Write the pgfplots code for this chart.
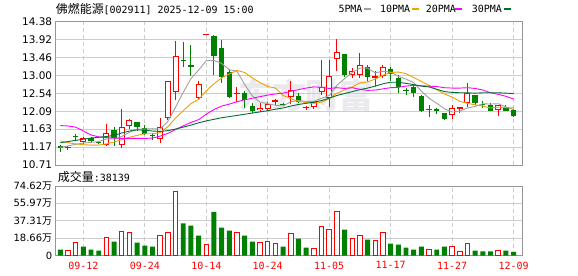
\documentclass[border=0pt]{standalone}
\usepackage{pgfplots}
\pgfplotsset{compat=1.18}
\usepackage{pgfplotstable}
\usepackage{fontspec}
\setmainfont{DejaVu Sans}
\newfontfamily\cjk{Noto Sans CJK SC}
\newfontfamily\mono{DejaVu Sans Mono}
\definecolor{kred}{RGB}{255,0,0}
\definecolor{kgreen}{RGB}{0,128,0}
\definecolor{ma5}{RGB}{160,160,160}
\definecolor{ma10}{RGB}{240,160,0}
\definecolor{ma20}{RGB}{255,0,255}
\definecolor{ma30}{RGB}{0,110,50}
\definecolor{gridc}{RGB}{205,205,205}
\definecolor{framec}{RGB}{150,150,150}
\definecolor{wm}{RGB}{234,234,238}

\pgfplotstableread{
i o h l c
1 11.15 11.20 11.09 11.16
3 11.32 11.42 11.26 11.38
6 11.24 11.76 11.20 11.52
8 11.24 12.15 11.14 11.68
9 11.73 11.90 11.63 11.86
13 11.38 11.92 11.28 11.67
14 11.93 12.86 11.85 12.86
15 12.60 13.89 12.38 13.48
18 12.44 12.85 12.38 12.78
19 14.06 14.06 14.06 14.06
23 12.53 12.72 12.32 12.55
26 12.13 12.31 12.08 12.16
27 12.16 12.33 12.10 12.25
28 12.33 12.41 12.25 12.35
30 12.46 12.86 12.27 12.62
32 12.17 12.22 12.12 12.18
33 12.22 12.35 12.14 12.31
34 12.60 13.40 12.50 12.69
35 12.44 13.40 12.19 12.97
36 13.44 13.94 13.13 13.59
38 13.03 13.20 12.93 13.11
39 13.03 13.57 12.93 13.27
41 12.96 13.12 12.74 12.98
42 12.99 13.27 12.93 13.20
51 12.01 12.25 11.89 12.16
52 12.16 12.17 12.04 12.17
53 12.31 12.80 12.19 12.53
57 12.14 12.25 11.97 12.23
}\redK

\pgfplotstableread{
i o h l c
0 11.20 11.21 11.04 11.15
2 11.45 11.50 11.34 11.42
4 11.40 11.42 11.28 11.33
5 11.29 11.31 11.25 11.27
7 11.61 11.69 11.20 11.40
10 11.80 11.82 11.59 11.68
11 11.65 11.73 11.48 11.51
12 11.47 11.54 11.35 11.45
16 13.39 13.87 13.23 13.37
17 13.26 13.78 13.00 13.23
20 14.02 14.04 13.02 13.51
21 13.71 13.91 12.82 12.97
22 13.10 13.16 12.42 12.44
24 12.56 12.61 12.16 12.37
25 12.22 12.31 12.05 12.09
29 12.26 12.29 12.21 12.25
31 12.47 12.55 12.29 12.32
37 13.55 13.56 12.97 13.02
40 13.23 13.27 12.85 12.97
43 13.17 13.23 12.85 13.03
44 12.95 13.02 12.56 12.72
45 12.61 12.67 12.50 12.60
46 12.72 12.74 12.46 12.55
47 12.48 12.49 12.08 12.10
48 12.14 12.25 11.95 12.12
49 12.11 12.16 12.02 12.10
50 12.03 12.04 11.86 11.88
54 12.50 12.51 12.25 12.31
55 12.26 12.35 12.16 12.25
56 12.25 12.29 12.09 12.10
58 12.19 12.25 12.09 12.10
59 12.12 12.14 11.95 11.97
}\greenK

\pgfplotstableread{
i m5 m10 m20 m30
0 11.16 11.33 11.72 11.28
1 11.20 11.28 11.71 11.31
2 11.24 11.25 11.68 11.34
3 11.27 11.23 11.58 11.37
4 11.29 11.22 11.48 11.40
5 11.31 11.22 11.43 11.42
6 11.38 11.25 11.41 11.44
7 11.38 11.30 11.40 11.47
8 11.44 11.36 11.39 11.53
9 11.55 11.42 11.39 11.58
10 11.63 11.47 11.39 11.61
11 11.63 11.51 11.39 11.60
12 11.64 11.51 11.40 11.58
13 11.63 11.54 11.45 11.57
14 11.83 11.69 11.52 11.59
15 12.19 11.91 11.62 11.63
16 12.57 12.10 11.71 11.68
17 12.92 12.28 11.80 11.73
18 13.14 12.39 11.87 11.79
19 13.38 12.61 12.01 11.84
20 13.39 12.79 12.13 11.88
21 13.31 12.94 12.22 11.92
22 13.15 13.04 12.27 11.95
23 13.11 13.13 12.33 11.98
24 12.77 13.08 12.38 12.01
25 12.48 12.94 12.42 12.04
26 12.32 12.82 12.46 12.07
27 12.28 12.72 12.50 12.10
28 12.24 12.68 12.53 12.14
29 12.22 12.49 12.55 12.17
30 12.33 12.41 12.60 12.22
31 12.36 12.34 12.64 12.26
32 12.34 12.31 12.68 12.29
33 12.34 12.29 12.71 12.32
34 12.42 12.32 12.70 12.36
35 12.49 12.41 12.67 12.42
36 12.75 12.55 12.69 12.49
37 12.92 12.63 12.67 12.54
38 13.08 12.71 12.69 12.59
39 13.19 12.81 12.65 12.64
40 13.19 12.84 12.62 12.68
41 13.07 12.91 12.63 12.73
42 13.11 13.01 12.66 12.79
43 13.09 13.08 12.69 12.83
44 12.98 13.09 12.70 12.83
45 12.91 13.05 12.73 12.80
46 12.82 12.95 12.75 12.77
47 12.60 12.85 12.74 12.73
48 12.42 12.75 12.73 12.71
49 12.29 12.64 12.72 12.65
50 12.15 12.53 12.69 12.59
51 12.07 12.45 12.68 12.57
52 12.09 12.34 12.68 12.56
53 12.17 12.29 12.69 12.56
54 12.21 12.25 12.67 12.55
55 12.28 12.22 12.63 12.56
56 12.27 12.17 12.56 12.56
57 12.28 12.19 12.52 12.56
58 12.20 12.18 12.47 12.55
59 12.13 12.17 12.40 12.54
}\maT

\pgfplotstableread{
i v
1 5.0
2 13.5
6 18.8
8 26.3
9 24.2
13 22.0
14 25.2
15 68.9
19 11.4
23 25.2
26 13.5
27 14.6
28 12.4
30 23.1
33 7.1
34 30.6
35 27.4
36 47.6
38 17.8
39 21.0
41 15.6
42 24.2
48 6.0
51 9.2
52 3.9
53 12.4
57 5.0
}\volR

\pgfplotstableread{
i v
0 6.4
3 9.6
4 6.4
5 5.3
7 14.9
10 13.9
11 10.7
12 9.6
16 34.5
17 32.0
18 21.3
20 46.9
21 29.8
22 26.7
24 21.3
25 14.9
29 9.6
31 18.1
32 8.5
37 27.7
40 17.1
43 12.8
44 11.7
45 8.5
46 6.4
47 9.6
49 6.4
50 9.6
54 5.3
55 4.3
56 4.3
58 5.3
59 3.81
}\volG

\pgfplotsset{
  kpanel/.style={
    scale only axis, width=466.3bp,
    xmin=-0.6, xmax=60.1,
    axis line style={framec, line width=0.9bp},
    major tick length=0pt,
    xtick={3,11,19,27,35,43,51,59},
    xmajorgrids, ymajorgrids,
    x grid style={gridc, line width=0.8bp, dash pattern=on 4bp off 3bp},
    y grid style={gridc, line width=0.8bp},
    yticklabel style={inner sep=0pt, anchor=east, xshift=-3.4bp},
  },
  kbar/.style n args={2}{draw=none, mark=none, error bars/.cd, y dir=plus, y explicit, error mark=none,
    error bar style={draw=#1, line width=#2}},
}

\begin{document}
\begin{tikzpicture}
\useasboundingbox (0bp,0bp) rectangle (578bp,276bp);
% watermark
\node[text=wm, font=\cjk\bfseries\fontsize{34}{34}\selectfont, anchor=west, inner sep=0pt] at (238bp,181bp) {东方财富};
% title
\node[anchor=west, inner sep=0pt] at (55.7bp,267bp) {{\cjk\fontsize{12}{12}\selectfont 佛燃能源}{\mono\fontsize{10}{12}\selectfont [002911] 2025-12-09 15:00}};
% legend
\begin{scope}[every node/.style={anchor=west, inner sep=0pt, font=\mono\fontsize{10}{12}\selectfont}]
\node at (338.3bp,267bp) {5PMA};
\draw[ma5, line width=2.5bp] (364bp,267bp) -- (371bp,267bp);
\node at (380bp,267bp) {10PMA};
\draw[ma10, line width=2.5bp] (412bp,267bp) -- (419bp,267bp);
\node at (425.7bp,267bp) {20PMA};
\draw[ma20, line width=2.5bp] (455bp,267bp) -- (462bp,267bp);
\node at (471.7bp,267bp) {30PMA};
\draw[ma30, line width=2.5bp] (504bp,267bp) -- (511bp,267bp);
\end{scope}
\node[anchor=west, inner sep=0pt] at (57.7bp,99.3bp) {{\cjk\fontsize{12}{12}\selectfont 成交量}{\mono\fontsize{10}{12}\selectfont :38139}};

\begin{axis}[kpanel,
  at={(55.7bp,111bp)}, anchor=south west, height=143.3bp,
  ymin=10.71, ymax=14.38,
  xticklabels={},
  ytick={10.71,11.16875,11.6275,12.08625,12.545,13.00375,13.4625,13.92125,14.38},
  yticklabels={10.71,11.17,11.63,12.09,12.54,13.00,13.46,13.92,14.38},
  yticklabel style={font=\fontsize{10.5}{12}\selectfont},
]
% wicks
\addplot[kbar={kred}{1bp}]
  table[x=i, y=l, y error expr={\thisrow{h}-\thisrow{l}}] {\redK};
\addplot[kbar={kgreen}{1bp}]
  table[x=i, y=l, y error expr={\thisrow{h}-\thisrow{l}}] {\greenK};
% green bodies
\addplot[kbar={kgreen}{5.3bp}]
  table[x=i, y expr={min(\thisrow{o},\thisrow{c})}, y error expr={max(abs(\thisrow{o}-\thisrow{c}),0.035)}] {\greenK};
% red bodies (hollow)
\addplot[kbar={kred}{6bp}]
  table[x=i, y expr={min(\thisrow{o},\thisrow{c})-0.013}, y error expr={abs(\thisrow{o}-\thisrow{c})+0.026}] {\redK};
\addplot[kbar={white}{4bp}]
  table[x=i, y expr={min(\thisrow{o},\thisrow{c})+0.013}, y error expr={max(abs(\thisrow{o}-\thisrow{c})-0.026,0)}] {\redK};
% moving averages
\addplot[ma5, line width=0.9bp, mark=none] table[x=i, y=m5] {\maT};
\addplot[ma10, line width=0.9bp, mark=none] table[x=i, y=m10] {\maT};
\addplot[ma20, line width=0.9bp, mark=none] table[x=i, y=m20] {\maT};
\addplot[ma30, line width=0.9bp, mark=none] table[x=i, y=m30] {\maT};
\end{axis}

\begin{axis}[kpanel,
  at={(55.7bp,20.5bp)}, anchor=south west, height=69.5bp,
  ymin=0, ymax=74.62,
  xticklabels={09-12,09-24,10-14,10-24,11-05,11-17,11-27,12-09},
  xticklabel style={kred, font=\mono\fontsize{10}{12}\selectfont, inner sep=0pt, anchor=north, yshift=-6bp},
  ytick={0,18.655,37.31,55.965,74.62},
  yticklabels={0,{18.66{\cjk 万}},{37.31{\cjk 万}},{55.97{\cjk 万}},{74.62{\cjk 万}}},
  yticklabel style={font=\fontsize{10}{12}\selectfont},
]
\addplot[ybar, bar width=0.64, bar shift=0pt, fill=kgreen, draw=none] table[x=i, y=v] {\volG};
\addplot[ybar, bar width=0.58, bar shift=0pt, fill=white, draw=kred, line width=1bp] table[x=i, y=v] {\volR};
\end{axis}
\end{tikzpicture}
\end{document}
